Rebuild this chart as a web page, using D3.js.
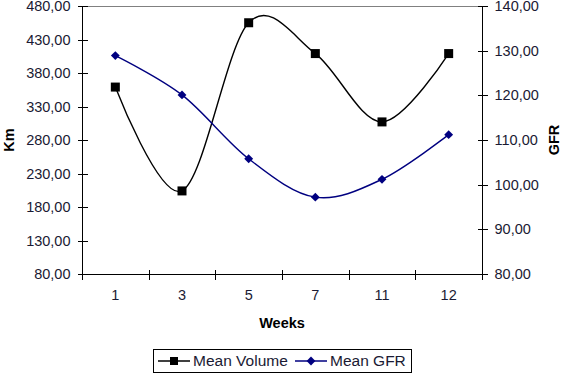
<!DOCTYPE html>
<meta charset="utf-8">
<head>
<style>
  body { margin: 0; background: #fff; }
  text { font-family: "Liberation Sans", Arial, sans-serif; }
  .axis path, .axis line { fill: none; stroke: #000; shape-rendering: crispEdges; }
</style>
</head>
<body>
<script src="https://cdnjs.cloudflare.com/ajax/libs/d3/7.8.5/d3.min.js"></script>
<script>
var weeks = ["1", "3", "5", "7", "11", "12"];
var meanVolume = [359, 204, 455, 409, 307, 409];
var meanGFR = [128.9, 120.1, 105.8, 97.2, 101.2, 111.2];
var kmTicks = [80, 130, 180, 230, 280, 330, 380, 430, 480];
var gfrTicks = [80, 90, 100, 110, 120, 130, 140];

var w = 562, h = 374;
var pLeft = 82, pRight = 482, pTop = 6, pBottom = 274;
var fs = 14.5;

var svg = d3.select("body").append("svg")
    .attr("width", w)
    .attr("height", h);

var x = d3.scaleBand().domain(weeks).range([pLeft, pRight]).padding(0);
var yKm = d3.scaleLinear().domain([80, 480]).range([pBottom, pTop]);
var yGfr = d3.scaleLinear().domain([80, 140]).range([pBottom, pTop]);

var fmt = function(d) { return d3.format(".2f")(d).replace(".", ","); };

// top border of the plot area
svg.append("line")
    .attr("x1", pLeft).attr("x2", pRight)
    .attr("y1", pTop + 0.5).attr("y2", pTop + 0.5)
    .attr("stroke", "#808080");

// left axis
var gl = svg.append("g").attr("class", "axis")
    .attr("transform", "translate(" + (pLeft + 0.5) + ",0)")
    .call(d3.axisLeft(yKm).tickValues(kmTicks).tickSize(5).tickPadding(7).tickFormat(fmt));
gl.selectAll(".tick line").attr("x1", 5);
gl.select(".domain").attr("d", "M0," + pTop + "V" + pBottom);

// right axis
var gr = svg.append("g").attr("class", "axis")
    .attr("transform", "translate(" + (pRight + 0.5) + ",0)")
    .call(d3.axisRight(yGfr).tickValues(gfrTicks).tickSize(5).tickPadding(7).tickFormat(fmt));
gr.selectAll(".tick line").attr("x1", -5);
gr.select(".domain").attr("d", "M0," + pTop + "V" + pBottom);

// bottom axis: labels centred in each band, ticks on band edges
var gb = svg.append("g").attr("class", "axis")
    .attr("transform", "translate(0," + (pBottom + 0.5) + ")")
    .call(d3.axisBottom(x).tickSize(0).tickPadding(15));
gb.select(".domain").attr("d", "M" + pLeft + ",0H" + pRight);
gb.selectAll(".edge")
    .data(weeks.map(function(d) { return x(d); }).concat([pRight]))
    .enter().append("line")
    .attr("x1", function(d) { return Math.round(d) + 0.5; })
    .attr("x2", function(d) { return Math.round(d) + 0.5; })
    .attr("y1", -5).attr("y2", 5)
    .attr("stroke", "#000");

svg.selectAll(".axis text")
    .attr("font-family", "'Liberation Sans', Arial, sans-serif")
    .attr("font-size", fs)
    .attr("fill", "#1a1a33");

// axis titles
svg.append("text").text("Km")
    .attr("transform", "translate(14,140) rotate(-90)")
    .attr("text-anchor", "middle")
    .attr("font-size", fs).attr("font-weight", "bold");
svg.append("text").text("GFR")
    .attr("transform", "translate(559,140) rotate(-90)")
    .attr("text-anchor", "middle")
    .attr("font-size", fs).attr("font-weight", "bold");
svg.append("text").text("Weeks")
    .attr("x", 282).attr("y", 328)
    .attr("text-anchor", "middle")
    .attr("font-size", fs).attr("font-weight", "bold");

var cx = function(i) { return x(weeks[i]) + x.bandwidth() / 2; };

// Mean Volume line
var lineKm = d3.line()
    .x(function(d, i) { return cx(i); })
    .y(function(d) { return yKm(d); })
    .curve(d3.curveCatmullRom.alpha(0));
svg.append("path").datum(meanVolume)
    .attr("d", lineKm)
    .attr("fill", "none").attr("stroke", "#000").attr("stroke-width", 1.4);
svg.selectAll(".sq").data(meanVolume).enter().append("rect")
    .attr("x", function(d, i) { return cx(i) - 4.5; })
    .attr("y", function(d) { return yKm(d) - 4.5; })
    .attr("width", 9).attr("height", 9)
    .attr("fill", "#000");

// Mean GFR line
var lineGfr = d3.line()
    .x(function(d, i) { return cx(i); })
    .y(function(d) { return yGfr(d); })
    .curve(d3.curveCatmullRom.alpha(0));
svg.append("path").datum(meanGFR)
    .attr("d", lineGfr)
    .attr("fill", "none").attr("stroke", "#000080").attr("stroke-width", 1.4);
var diamond = d3.symbol().type(d3.symbolDiamond2).size(50);
svg.selectAll(".dm").data(meanGFR).enter().append("path")
    .attr("d", diamond)
    .attr("transform", function(d, i) { return "translate(" + cx(i) + "," + yGfr(d) + ")"; })
    .attr("fill", "#000080");

// legend
var lg = svg.append("g");
lg.append("rect")
    .attr("x", 153.5).attr("y", 349.5).attr("width", 258).attr("height", 23)
    .attr("fill", "#fff").attr("stroke", "#000");
lg.append("line").attr("x1", 158).attr("x2", 190).attr("y1", 361).attr("y2", 361)
    .attr("stroke", "#000").attr("stroke-width", 1.5);
lg.append("rect").attr("x", 170).attr("y", 357).attr("width", 8).attr("height", 8).attr("fill", "#000");
lg.append("text").text("Mean Volume").attr("x", 193).attr("y", 366).attr("font-size", 15.5).attr("fill", "#1a1a33");
lg.append("line").attr("x1", 295).attr("x2", 327).attr("y1", 361).attr("y2", 361)
    .attr("stroke", "#000080").attr("stroke-width", 1.5);
lg.append("path").attr("d", diamond).attr("transform", "translate(311,361)").attr("fill", "#000080");
lg.append("text").text("Mean GFR").attr("x", 330).attr("y", 366).attr("font-size", 15.5).attr("fill", "#1a1a33");
</script>
</body>
